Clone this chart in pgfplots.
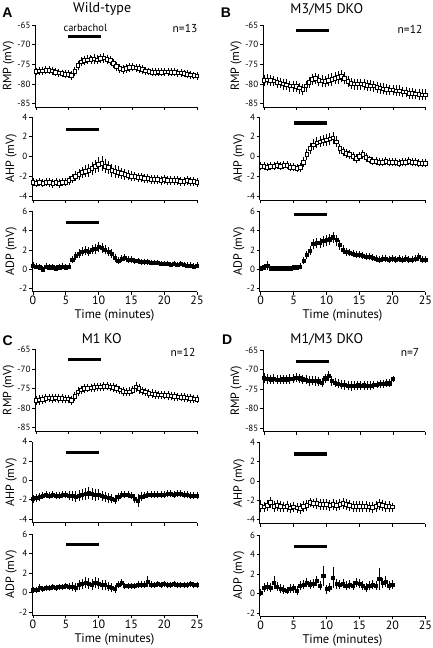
\documentclass[border=0pt]{standalone}
\usepackage{pgfplots}
\pgfplotsset{compat=1.18}
\usepackage{pgfplotstable}
\usepackage{fontspec}
\setmainfont{PT Sans}
\newfontfamily\letterfont{Liberation Sans}

\pgfplotstableread{
t rmp rmpe ahp ahpe adp adpe
0    -76.8 0.6 -2.6 0.25 0.4 0.15
0.5  -76.7 0.6 -2.7 0.25 0.3 0.15
1    -76.6 0.6 -2.6 0.25 0.2 0.15
1.5  -76.5 0.6 -2.7 0.25 0.0 0.15
2    -76.5 0.6 -2.6 0.25 0.3 0.15
2.5  -76.7 0.6 -2.6 0.3  0.2 0.15
3    -77.0 0.6 -2.7 0.3  0.2 0.15
3.5  -77.2 0.6 -2.6 0.25 0.1 0.15
4    -77.3 0.6 -2.7 0.3  0.2 0.15
4.5  -77.5 0.6 -2.6 0.25 0.3 0.15
5    -77.5 0.6 -2.6 0.25 0.2 0.15
5.5  -77.8 0.7 -2.4 0.3  0.3 0.15
6    -76.8 0.8 -2.2 0.3  1.0 0.2
6.5  -75.2 0.8 -2.0 0.35 1.4 0.25
7    -74.3 0.8 -1.8 0.4  1.6 0.3
7.5  -74.0 0.8 -1.6 0.4  1.8 0.3
8    -73.8 0.8 -1.5 0.45 1.9 0.3
8.5  -73.7 0.8 -1.4 0.5  1.8 0.3
9    -73.6 0.8 -1.2 0.5  2.0 0.3
9.5  -73.8 0.8 -1.0 0.5  2.1 0.35
10   -73.5 0.8 -0.8 0.6  2.3 0.4
10.5 -73.4 0.8 -0.7 0.6  2.2 0.35
11   -73.7 0.8 -1.0 0.55 2.0 0.3
11.5 -74.0 0.8 -1.1 0.5  1.8 0.3
12   -74.8 0.8 -1.4 0.5  1.6 0.3
12.5 -75.5 0.8 -1.5 0.5  1.2 0.25
13   -76.0 0.7 -1.6 0.45 0.9 0.2
13.5 -76.3 0.7 -1.7 0.4  1.1 0.2
14   -76.0 0.7 -1.8 0.4  1.2 0.2
14.5 -75.8 0.7 -1.9 0.35 1.0 0.2
15   -75.7 0.7 -2.0 0.35 1.0 0.2
15.5 -75.9 0.7 -2.0 0.3  0.9 0.15
16   -76.0 0.7 -2.1 0.3  0.9 0.15
16.5 -76.3 0.7 -2.1 0.3  0.8 0.15
17   -76.6 0.6 -2.2 0.3  0.8 0.15
17.5 -76.8 0.6 -2.2 0.3  0.8 0.15
18   -77.0 0.6 -2.3 0.3  0.7 0.15
18.5 -77.0 0.6 -2.3 0.3  0.7 0.15
19   -76.9 0.6 -2.3 0.3  0.7 0.15
19.5 -77.0 0.6 -2.4 0.3  0.6 0.15
20   -76.9 0.6 -2.3 0.3  0.6 0.15
20.5 -76.9 0.6 -2.4 0.3  0.6 0.15
21   -77.0 0.6 -2.4 0.3  0.5 0.15
21.5 -77.0 0.6 -2.4 0.3  0.6 0.15
22   -77.1 0.6 -2.4 0.3  0.5 0.15
22.5 -77.2 0.6 -2.5 0.3  0.6 0.15
23   -77.3 0.6 -2.5 0.3  0.5 0.15
23.5 -77.5 0.6 -2.4 0.3  0.4 0.15
24   -77.7 0.6 -2.5 0.3  0.4 0.15
24.5 -77.8 0.6 -2.5 0.3  0.3 0.15
25   -77.9 0.6 -2.6 0.3  0.4 0.15
}\tabA

\pgfplotstableread{
t rmp rmpe ahp ahpe adp adpe
0    -79.0 1.0 -1.0 0.25 0.1 0.1
0.5  -78.9 1.0 -1.0 0.25 0.2 0.15
1    -79.0 1.0 -1.1 0.25 0.4 0.3
1.5  -79.2 1.0 -1.0 0.25 0.1 0.1
2    -79.5 1.0 -1.0 0.25 0.1 0.1
2.5  -79.7 1.0 -0.9 0.25 0.1 0.1
3    -80.0 1.0 -1.0 0.25 0.1 0.1
3.5  -80.2 1.0 -0.9 0.25 0.1 0.1
4    -80.5 1.0 -0.9 0.25 0.1 0.1
4.5  -80.5 1.0 -1.1 0.25 0.1 0.1
5    -80.6 1.0 -1.1 0.25 0.2 0.1
5.5  -81.0 1.0 -1.2 0.25 0.2 0.1
6    -81.3 1.0 -1.1 0.3  0.3 0.15
6.5  -80.5 1.0 -0.6 0.35 0.9 0.2
7    -79.5 1.0 0.2  0.4  1.5 0.25
7.5  -78.8 1.0 0.8  0.4  1.9 0.3
8    -78.5 1.0 1.2  0.4  2.6 0.35
8.5  -79.0 1.1 1.4  0.4  2.7 0.35
9    -79.2 1.1 1.5  0.4  2.7 0.35
9.5  -79.3 1.1 1.6  0.4  2.9 0.4
10   -79.0 1.1 1.7  0.45 3.0 0.4
10.5 -78.8 1.2 1.8  0.45 3.1 0.4
11   -78.5 1.2 1.9  0.45 3.3 0.4
11.5 -78.3 1.2 1.5  0.4  3.0 0.4
12   -78.0 1.2 0.8  0.35 2.5 0.35
12.5 -78.5 1.1 0.5  0.3  2.0 0.3
13   -79.3 1.0 0.3  0.3  1.8 0.25
13.5 -79.8 1.0 0.2  0.3  1.7 0.2
14   -80.0 1.0 0.0  0.3  1.6 0.2
14.5 -80.0 1.0 -0.2 0.3  1.5 0.2
15   -80.0 1.0 0.0  0.3  1.5 0.2
15.5 -80.1 1.0 0.2  0.3  1.4 0.2
16   -80.3 1.0 -0.1 0.3  1.3 0.2
16.5 -80.4 1.0 -0.3 0.25 1.3 0.2
17   -80.5 1.0 -0.5 0.25 1.2 0.2
17.5 -80.8 1.0 -0.5 0.25 1.1 0.2
18   -81.0 1.0 -0.6 0.25 1.0 0.2
18.5 -81.2 1.0 -0.6 0.25 1.1 0.2
19   -81.3 1.0 -0.5 0.25 1.1 0.2
19.5 -81.5 1.0 -0.6 0.25 1.0 0.2
20   -81.5 1.0 -0.6 0.25 1.1 0.2
20.5 -81.7 1.0 -0.6 0.25 1.0 0.2
21   -81.7 1.0 -0.7 0.25 1.1 0.2
21.5 -82.0 1.0 -0.6 0.25 1.0 0.2
22   -82.0 1.0 -0.6 0.25 1.1 0.2
22.5 -82.3 1.0 -0.5 0.25 1.0 0.2
23   -82.3 1.0 -0.6 0.25 1.0 0.2
23.5 -82.5 1.0 -0.6 0.25 1.1 0.2
24   -82.6 1.0 -0.7 0.25 1.3 0.25
24.5 -82.7 1.0 -0.7 0.25 1.0 0.2
25   -82.7 1.0 -0.7 0.25 1.0 0.2
}\tabB

\pgfplotstableread{
t rmp rmpe ahp ahpe adp adpe
0    -78.0 0.8 -1.9 0.25 0.3 0.15
0.5  -77.9 0.8 -1.8 0.25 0.3 0.15
1    -77.7 0.8 -1.7 0.25 0.5 0.25
1.5  -77.5 0.7 -1.6 0.2  0.4 0.15
2    -77.4 0.7 -1.5 0.2  0.5 0.15
2.5  -77.5 0.7 -1.6 0.2  0.5 0.15
3    -77.4 0.7 -1.5 0.2  0.6 0.15
3.5  -77.5 0.7 -1.6 0.2  0.5 0.15
4    -77.5 0.7 -1.6 0.2  0.6 0.15
4.5  -77.6 0.7 -1.5 0.2  0.6 0.15
5    -77.6 0.7 -1.5 0.2  0.7 0.15
5.5  -78.0 0.7 -1.6 0.3  0.6 0.2
6    -77.0 0.7 -1.6 0.35 0.6 0.3
6.5  -75.8 0.7 -1.7 0.4  0.5 0.3
7    -75.3 0.7 -1.6 0.4  0.8 0.35
7.5  -75.0 0.7 -1.5 0.4  0.9 0.35
8    -74.9 0.7 -1.4 0.45 1.0 0.4
8.5  -74.8 0.7 -1.35 0.45 0.9 0.4
9    -74.7 0.7 -1.4 0.45 0.8 0.4
9.5  -74.6 0.7 -1.5 0.45 1.0 0.4
10   -74.6 0.7 -1.5 0.4  0.9 0.4
10.5 -74.5 0.7 -1.6 0.35 0.8 0.35
11   -74.4 0.7 -1.7 0.35 0.8 0.35
11.5 -74.6 0.7 -1.8 0.35 0.6 0.3
12   -74.7 0.7 -1.9 0.35 0.5 0.3
12.5 -75.0 0.7 -2.0 0.3  0.4 0.25
13   -75.3 0.7 -1.7 0.25 0.8 0.2
13.5 -75.7 0.7 -1.5 0.2  1.0 0.2
14   -75.9 0.7 -1.5 0.2  0.7 0.15
14.5 -75.8 0.7 -1.5 0.2  0.7 0.15
15   -75.4 0.7 -1.6 0.2  0.7 0.15
15.5 -74.6 1.0 -1.9 0.3  0.7 0.15
16   -75.0 0.9 -2.1 0.5  0.8 0.2
16.5 -75.6 0.7 -1.7 0.3  0.8 0.2
17   -75.9 0.7 -1.6 0.2  0.8 0.2
17.5 -76.2 0.7 -1.5 0.2  1.1 0.4
18   -76.3 0.7 -1.5 0.2  0.8 0.2
18.5 -76.5 0.7 -1.5 0.2  0.8 0.15
19   -76.6 0.7 -1.5 0.2  0.9 0.15
19.5 -76.6 0.7 -1.5 0.2  0.8 0.15
20   -76.7 0.7 -1.5 0.2  0.9 0.15
20.5 -76.8 0.7 -1.4 0.2  0.8 0.15
21   -76.9 0.7 -1.4 0.2  0.8 0.15
21.5 -77.0 0.7 -1.5 0.2  0.9 0.15
22   -77.1 0.7 -1.4 0.2  0.8 0.15
22.5 -77.2 0.7 -1.4 0.2  0.8 0.15
23   -77.3 0.7 -1.5 0.2  0.8 0.15
23.5 -77.4 0.7 -1.5 0.2  0.8 0.15
24   -77.5 0.7 -1.6 0.2  0.9 0.15
24.5 -77.6 0.7 -1.6 0.2  0.8 0.15
25   -77.7 0.7 -1.6 0.2  0.8 0.15
}\tabC

\pgfplotstableread{
t rmp rmpe ahp ahpe adp adpe
0    -72.1 0.9 -2.6 0.5 0.1 0.2
0.5  -72.3 0.9 -2.7 0.4 0.6 0.3
1    -72.5 0.8 -2.5 0.4 0.7 0.3
1.5  -72.4 0.8 -2.2 0.4 0.6 0.3
2    -72.6 0.8 -2.6 0.4 1.1 0.5
2.5  -72.6 0.8 -2.5 0.4 0.7 0.3
3    -72.5 0.8 -2.6 0.4 0.5 0.3
3.5  -72.5 0.8 -2.7 0.4 0.4 0.3
4    -72.4 0.8 -2.6 0.4 0.3 0.2
4.5  -72.3 0.8 -2.8 0.4 0.5 0.3
5    -72.1 0.8 -2.7 0.4 0.55 0.3
5.5  -72.2 0.8 -2.8 0.4 0.3 0.3
6    -72.5 0.8 -2.85 0.4 0.8 0.3
6.5  -72.6 0.8 -2.6 0.4 0.9 0.3
7    -72.9 0.8 -2.5 0.4 1.1 0.3
7.5  -72.8 0.8 -2.2 0.3 0.95 0.3
8    -72.9 0.8 -2.3 0.3 1.0 0.3
8.5  -73.0 0.8 -2.3 0.4 1.3 0.35
9    -73.3 0.8 -2.4 0.4 0.8 0.3
9.5  -72.2 0.8 -2.4 0.4 1.8 0.9
10   -71.6 0.8 -2.4 0.4 0.45 0.3
10.5 -72.9 0.8 -2.5 0.4 0.6 0.3
11   -73.3 0.8 -2.4 0.4 1.65 0.9
11.5 -73.6 0.8 -2.5 0.4 1.0 0.35
12   -73.8 0.8 -2.4 0.4 0.9 0.3
12.5 -73.9 0.8 -2.3 0.4 1.0 0.3
13   -74.1 0.8 -2.4 0.4 0.8 0.3
13.5 -74.2 0.8 -2.5 0.4 0.9 0.3
14   -74.1 0.8 -2.6 0.4 0.8 0.3
14.5 -74.0 0.8 -2.65 0.4 1.1 0.3
15   -74.1 0.8 -2.6 0.4 1.0 0.3
15.5 -74.0 0.7 -2.6 0.4 0.8 0.3
16   -74.1 0.7 -2.6 0.4 0.6 0.3
16.5 -74.1 0.7 -2.7 0.4 0.8 0.3
17   -73.9 0.7 -2.75 0.4 0.9 0.3
17.5 -73.8 0.6 -2.6 0.4 0.8 0.3
18   -73.7 0.6 -2.4 0.4 1.5 1.0
18.5 -73.6 0.6 -2.5 0.4 1.1 0.35
19   -73.5 0.6 -2.6 0.4 1.2 0.4
19.5 -73.5 0.6 -2.65 0.4 0.8 0.3
20   -72.4 0.4 -2.7 0.3 0.9 0.3
}\tabD

\pgfplotsset{
  base/.style={anchor=north west, scale only axis, clip=false,
    axis lines=left, axis line style={-, line width=0.7pt},
    xmin=-0.15, xmax=25, xtick={0,5,10,15,20,25},
    tick align=outside, major tick length=3pt,
    every tick/.style={black, line width=0.7pt},
    /pgf/number format/assume math mode=true,
    yticklabel style={font=\fontsize{9}{9}\selectfont, inner sep=1.5pt},
    xticklabel style={font=\fontsize{12}{12}\selectfont, inner sep=1.5pt},
    ylabel style={font=\fontsize{12}{12}\selectfont, anchor=center},
    xlabel style={font=\fontsize{12.5}{12}\selectfont, at={(axis description cs:0.5,0)}, anchor=center, yshift=-24pt},
  },
  rmp/.style={base, ymin=-85.8, ymax=-65, ytick={-85,-80,-75,-70,-65}, xticklabels={},
    ylabel={RMP (mV)}, ylabel style={at={(axis description cs:-0.165,0.5)}}},
  ahp/.style={base, ymin=-4.4, ymax=4, ytick={-4,-2,0,2,4}, xticklabels={},
    ylabel={AHP (mV)}, ylabel style={at={(axis description cs:-0.126,0.5)}}},
  adp/.style={base, ymin=-2.3, ymax=6, ytick={-2,0,2,4,6},
    ylabel={ADP (mV)}, ylabel style={at={(axis description cs:-0.126,0.5)}}, xlabel={Time (minutes)}},
  sem/.style={black, only marks, mark=square*, mark size=1.75pt,
    mark options={fill=white, line width=0.8pt},
    error bars/y dir=both, error bars/y explicit,
    error bars/error bar style={line width=0.7pt, black},
    error bars/error mark options={mark size=1.5pt, line width=0.7pt, black}},
  semf/.style={sem, mark options={fill=black, line width=0.6pt}, mark size=1.6pt},
  cbar/.style={black, line width=3.2pt, no markers},
}

\begin{document}
\begin{tikzpicture}
\useasboundingbox (0,0) rectangle (433pt,-648pt);

% ---------------- A: Wild-type ----------------
\begin{axis}[rmp, at={(35.2pt,-25pt)}, width=161.8pt, height=82pt]
\addplot[sem] table[x=t, y=rmp, y error=rmpe]{\tabA};
\addplot[cbar] coordinates {(5,-68) (10,-68)};
\end{axis}
\begin{axis}[ahp, at={(32pt,-117pt)}, width=165pt, height=83pt]
\addplot[sem] table[x=t, y=ahp, y error=ahpe]{\tabA};
\addplot[cbar] coordinates {(5,2.7) (10,2.7)};
\end{axis}
\begin{axis}[adp, at={(32pt,-211pt)}, width=165pt, height=80.7pt]
\addplot[semf] table[x=t, y=adp, y error=adpe]{\tabA};
\addplot[cbar] coordinates {(5,4.8) (10,4.8)};
\end{axis}

% ---------------- B: M3/M5 DKO ----------------
\begin{axis}[rmp, at={(263pt,-25pt)}, width=162.3pt, height=82pt]
\addplot[sem] table[x=t, y=rmp, y error=rmpe]{\tabB};
\addplot[cbar] coordinates {(5,-66.3) (10,-66.3)};
\end{axis}
\begin{axis}[ahp, at={(259.7pt,-117pt)}, width=165.6pt, height=83pt]
\addplot[sem] table[x=t, y=ahp, y error=ahpe]{\tabB};
\addplot[cbar] coordinates {(5,3.4) (10,3.4)};
\end{axis}
\begin{axis}[adp, at={(259.7pt,-211pt)}, width=165.6pt, height=80.7pt]
\addplot[semf] table[x=t, y=adp, y error=adpe]{\tabB};
\addplot[cbar] coordinates {(5,5.6) (10,5.6)};
\end{axis}

% ---------------- C: M1 KO ----------------
\begin{axis}[rmp, at={(35.2pt,-349.4pt)}, width=161.8pt, height=81.5pt]
\addplot[sem] table[x=t, y=rmp, y error=rmpe]{\tabC};
\addplot[cbar] coordinates {(5,-67.6) (10,-67.6)};
\end{axis}
\begin{axis}[ahp, at={(32pt,-441.7pt)}, width=165pt, height=81pt]
\addplot[semf] table[x=t, y=ahp, y error=ahpe]{\tabC};
\addplot[cbar] coordinates {(5,2.9) (10,2.9)};
\end{axis}
\begin{axis}[adp, at={(32pt,-534pt)}, width=165pt, height=81pt]
\addplot[semf] table[x=t, y=adp, y error=adpe]{\tabC};
\addplot[cbar] coordinates {(5,4.9) (10,4.9)};
\end{axis}

% ---------------- D: M1/M3 DKO ----------------
\begin{axis}[rmp, at={(263pt,-350pt)}, width=162.3pt, height=81.5pt]
\addplot[semf] table[x=t, y=rmp, y error=rmpe]{\tabD};
\addplot[cbar] coordinates {(5,-67.9) (10,-67.9)};
\end{axis}
\begin{axis}[ahp, at={(259.7pt,-442.5pt)}, width=165.6pt, height=81pt]
\addplot[sem] table[x=t, y=ahp, y error=ahpe]{\tabD};
\addplot[cbar] coordinates {(5,2.8) (10,2.8)};
\end{axis}
\begin{axis}[adp, at={(259.7pt,-535pt)}, width=165.6pt, height=81pt]
\addplot[semf] table[x=t, y=adp, y error=adpe]{\tabD};
\addplot[cbar] coordinates {(5,4.8) (10,4.8)};
\end{axis}

% ---------------- text ----------------
\begin{scope}[every node/.style={inner sep=0pt}]
\node[font=\letterfont\bfseries\fontsize{14}{14}\selectfont, anchor=center] at (7.5pt,-12.5pt) {A};
\node[font=\letterfont\bfseries\fontsize{14}{14}\selectfont, anchor=center] at (226pt,-12.5pt) {B};
\node[font=\letterfont\bfseries\fontsize{14}{14}\selectfont, anchor=center] at (7.7pt,-341pt) {C};
\node[font=\letterfont\bfseries\fontsize{14}{14}\selectfont, anchor=center] at (227.3pt,-340pt) {D};
\node[font=\fontsize{14}{14}\selectfont, anchor=base] at (102.2pt,-12.7pt) {Wild-type};
\node[font=\fontsize{14}{14}\selectfont, anchor=base] at (326.8pt,-13.3pt) {M3/M5 DKO};
\node[font=\fontsize{14}{14}\selectfont, anchor=base] at (101.7pt,-343.3pt) {M1 KO};
\node[font=\fontsize{14}{14}\selectfont, anchor=base] at (326.8pt,-343.3pt) {M1/M3 DKO};
\node[font=\fontsize{10.5}{11}\selectfont, anchor=base] at (85.3pt,-31.7pt) {carbachol};
\node[font=\fontsize{11.5}{12}\selectfont, anchor=base] at (185pt,-32.3pt) {n=13};
\node[font=\fontsize{11.5}{12}\selectfont, anchor=base] at (410pt,-33.3pt) {n=12};
\node[font=\fontsize{11.5}{12}\selectfont, anchor=base] at (183pt,-356pt) {n=12};
\node[font=\fontsize{11.5}{12}\selectfont, anchor=base] at (410pt,-356.7pt) {n=7};
\end{scope}
\end{tikzpicture}
\end{document}
